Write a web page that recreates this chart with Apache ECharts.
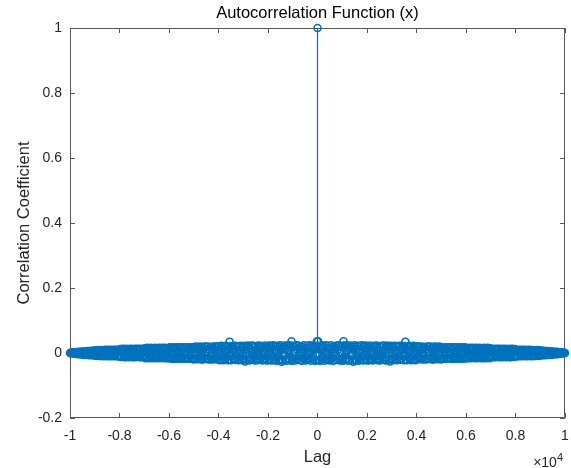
<!DOCTYPE html>
<html>
<head>
<meta charset="utf-8">
<script src="https://cdn.jsdelivr.net/npm/echarts@6/dist/echarts.min.js"></script>
<style>
  html, body { margin: 0; padding: 0; background: #ffffff; }
  #chart { width: 571px; height: 468px; }
</style>
</head>
<body>
<div id="chart"></div>
<script>
// Sample autocorrelation of x, normalised so that lag 0 equals 1.
const lagStep = 25;
const maxLag = 10000;
const peakValue = 1;

// Coefficients at positive lags 25, 50, ..., 10000 (the sequence is symmetric in lag).
const acfPositive = [
  0.036, -0.022, 0.017, -0.024, 0.021, 0.009, -0.019, 0.023, -0.013, 0.020, -0.024, 0.006, 0.024, -0.017, -0.021, 0.015, 0.022, -0.010, -0.023, 0.012,
  -0.020, 0.024, -0.015, 0.018, -0.024, 0.003, 0.021, -0.022, 0.016, -0.008, 0.023, -0.020, 0.011, 0.024, -0.018, -0.023, 0.019, 0.001, -0.021, 0.022,
  -0.024, 0.036, -0.012, 0.020, -0.022, 0.024, -0.017, 0.008, 0.022, -0.024, 0.014, -0.019, 0.023, -0.004, 0.021, -0.023, 0.017, -0.027, 0.010, 0.024,
  -0.021, 0.019, -0.023, 0.013, 0.022, -0.016, -0.024, 0.020, 0.005, -0.020, 0.024, -0.011, 0.018, -0.023, 0.022, -0.007, -0.019, 0.023, -0.022, 0.016,
  0.021, -0.023, 0.009, -0.018, 0.023, -0.021, 0.015, 0.002, -0.023, 0.020, -0.013, 0.022, -0.020, 0.017, -0.006, 0.023, -0.022, 0.012, -0.017, 0.021,
  -0.023, 0.018, -0.010, 0.022, -0.021, 0.006, 0.023, -0.019, 0.014, -0.023, 0.020, -0.015, 0.023, -0.003, -0.021, 0.019, -0.026, 0.011, 0.022, -0.018,
  0.020, -0.022, 0.016, -0.012, 0.022, -0.020, 0.008, -0.022, 0.019, -0.015, 0.021, -0.005, 0.022, -0.021, 0.013, -0.018, 0.022, -0.009, 0.020, -0.022,
  0.017, 0.035, -0.021, 0.011, -0.022, 0.019, -0.014, 0.022, -0.020, 0.004, 0.021, -0.022, 0.015, -0.010, 0.022, -0.019, 0.018, -0.022, 0.007, 0.021,
  -0.020, 0.017, -0.012, 0.020, -0.019, 0.009, 0.020, -0.017, 0.014, -0.020, 0.019, -0.006, 0.018, -0.020, 0.011, -0.016, 0.020, -0.019, 0.003, 0.019,
  -0.018, 0.020, -0.014, 0.016, -0.020, 0.008, 0.019, -0.020, 0.012, -0.017, 0.020, -0.010, 0.018, -0.019, 0.015, -0.005, 0.020, -0.018, 0.017, -0.020,
  0.018, -0.016, 0.011, -0.018, 0.017, -0.007, 0.018, -0.018, 0.013, -0.015, 0.018, -0.017, 0.004, 0.016, -0.018, 0.018, -0.012, 0.010, -0.018, 0.017,
  -0.014, 0.018, -0.018, 0.008, 0.017, -0.016, 0.018, -0.010, -0.018, 0.015, -0.017, 0.018, -0.006, 0.016, -0.018, 0.012, -0.015, 0.018, -0.017, 0.009,
  0.016, -0.015, 0.010, -0.016, 0.014, -0.006, 0.016, -0.016, 0.012, -0.014, 0.016, -0.009, 0.015, -0.016, 0.003, 0.016, -0.013, 0.011, -0.016, 0.015,
  -0.012, 0.016, -0.015, 0.007, 0.015, -0.016, 0.013, -0.010, 0.016, -0.015, 0.009, -0.016, 0.014, -0.005, 0.016, -0.014, 0.011, -0.016, 0.015, -0.008,
  0.013, -0.012, 0.009, -0.013, 0.012, -0.005, 0.013, -0.013, 0.010, -0.011, 0.013, -0.008, 0.012, -0.013, 0.004, 0.013, -0.012, 0.011, -0.013, 0.012,
  -0.010, 0.013, -0.012, 0.006, 0.012, -0.013, 0.011, -0.009, 0.013, -0.012, 0.008, -0.013, 0.012, -0.004, 0.013, -0.011, 0.010, -0.012, 0.012, -0.007,
  0.010, -0.010, 0.007, -0.010, 0.009, -0.004, 0.010, -0.010, 0.008, -0.009, 0.010, -0.006, 0.009, -0.010, 0.003, 0.010, -0.009, 0.008, -0.010, 0.009,
  -0.008, 0.010, -0.009, 0.005, 0.009, -0.010, 0.008, -0.007, 0.009, -0.009, 0.006, -0.009, 0.008, -0.003, 0.009, -0.008, 0.007, -0.009, 0.008, -0.005,
  0.008, -0.007, 0.005, -0.007, 0.007, -0.003, 0.006, -0.007, 0.005, -0.006, 0.006, -0.004, 0.005, -0.006, 0.002, 0.005, -0.005, 0.005, -0.005, 0.004,
  -0.004, 0.004, -0.004, 0.002, 0.004, -0.004, 0.003, -0.003, 0.003, -0.003, 0.002, -0.002, 0.002, -0.001, 0.002, -0.001, 0.001, -0.001, 0.001, 0.000
];

const xTickStep = 2000;
const yMin = -0.2, yMax = 1, yTickStep = 0.2;

// Full two-sided sequence: r(-k) = r(k).
const points = [];
for (let j = acfPositive.length; j >= 1; j--) points.push([-j * lagStep, acfPositive[j - 1]]);
points.push([0, peakValue]);
for (let j = 1; j <= acfPositive.length; j++) points.push([j * lagStep, acfPositive[j - 1]]);

const stemColor = '#0072BD';
const axisColor = '#5a5a5a';
const textColor = '#262626';
const font = '"Liberation Sans", Arial, Helvetica, sans-serif';
const gridBox = { left: 70, right: 6, top: 28, bottom: 50 };
const chartW = 571, chartH = 468;

// Axes carry ticks and labels; the surrounding box is drawn as one rectangle.
const baseX = {
  type: 'value', min: -maxLag, max: maxLag, interval: xTickStep,
  splitLine: { show: false },
  axisLine: { show: false, onZero: false },
  axisTick: { show: true, inside: true, length: 5, lineStyle: { color: axisColor } }
};
const baseY = {
  type: 'value', min: yMin, max: yMax, interval: yTickStep,
  splitLine: { show: false },
  axisLine: { show: false, onZero: false },
  axisTick: { show: true, inside: true, length: 5, lineStyle: { color: axisColor } }
};

const chart = echarts.init(document.getElementById('chart'), null, { renderer: 'canvas' });
chart.setOption({
  animation: false,
  backgroundColor: '#ffffff',
  grid: Object.assign({ containLabel: false, outerBoundsMode: 'none' }, gridBox),
  xAxis: [
    Object.assign({}, baseX, {
      position: 'bottom',
      axisLabel: {
        color: textColor, fontSize: 14, fontFamily: font, margin: 11,
        formatter: v => String(Number((v / 10000).toFixed(1)))
      },
      name: 'Lag', nameLocation: 'middle', nameGap: 31, nameMoveOverlap: false,
      nameTextStyle: { color: textColor, fontSize: 16.5, fontFamily: font }
    }),
    Object.assign({}, baseX, { position: 'top', axisLabel: { show: false } })
  ],
  yAxis: [
    Object.assign({}, baseY, {
      position: 'left',
      axisLabel: {
        color: textColor, fontSize: 14, fontFamily: font, margin: 8,
        formatter: v => String(Number(v.toFixed(1)))
      },
      name: 'Correlation Coefficient', nameLocation: 'middle', nameGap: 37, nameMoveOverlap: false,
      nameTextStyle: { color: textColor, fontSize: 16.5, fontFamily: font }
    }),
    Object.assign({}, baseY, { position: 'right', axisLabel: { show: false } })
  ],
  graphic: [
    {
      type: 'rect', z: 1, silent: true,
      shape: {
        x: gridBox.left + 0.5, y: gridBox.top + 0.5,
        width: chartW - gridBox.left - gridBox.right - 1,
        height: chartH - gridBox.top - gridBox.bottom - 1
      },
      style: { fill: null, stroke: axisColor, lineWidth: 1 }
    },
    {
      type: 'text', x: 317.5, y: 13, z: 10,
      style: {
        text: 'Autocorrelation Function (x)', align: 'center', verticalAlign: 'middle',
        fill: '#000000', font: '16.5px ' + font
      }
    },
    {
      type: 'text', x: 563, y: 461, z: 10,
      style: {
        text: '{n|×10}{s|4}', align: 'right', verticalAlign: 'middle',
        rich: {
          n: { fill: textColor, fontSize: 14, fontFamily: font, verticalAlign: 'bottom', lineHeight: 18 },
          s: { fill: textColor, fontSize: 11, fontFamily: font, verticalAlign: 'top', lineHeight: 18 }
        }
      }
    }
  ],
  series: [
    {
      // stems from the zero baseline to each coefficient
      type: 'custom',
      xAxisIndex: 0, yAxisIndex: 0,
      data: points,
      encode: { x: 0, y: 1 },
      z: 3,
      renderItem: function (params, api) {
        const base = api.coord([api.value(0), 0]);
        const tip = api.coord([api.value(0), api.value(1)]);
        return {
          type: 'line',
          shape: { x1: tip[0], y1: base[1], x2: tip[0], y2: tip[1] },
          style: { stroke: stemColor, lineWidth: 1.2 }
        };
      }
    },
    {
      // open circle marker at the tip of each stem
      type: 'scatter',
      xAxisIndex: 0, yAxisIndex: 0,
      data: points,
      z: 4,
      symbol: 'circle',
      symbolSize: 7,
      itemStyle: { color: 'rgba(0,0,0,0)', borderColor: stemColor, borderWidth: 1.5, opacity: 1 },
      emphasis: { disabled: true }
    }
  ]
});
</script>
</body>
</html>
